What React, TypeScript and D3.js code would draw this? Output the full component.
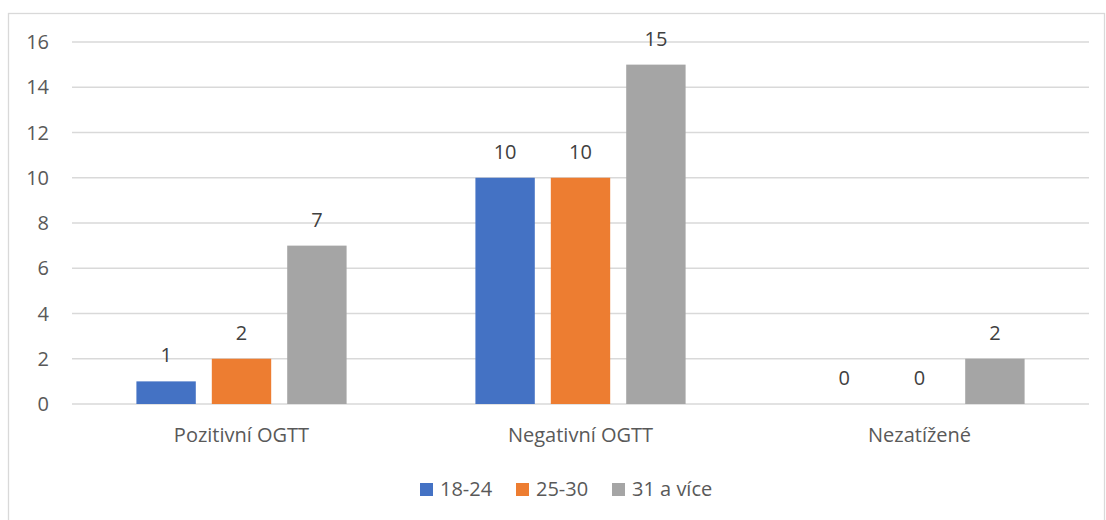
import React from "react";
import * as d3 from "d3";

const categories = ["Pozitivní OGTT", "Negativní OGTT", "Nezatížené"];
const series = ["18-24", "25-30", "31 a více"];
const values = [
  [1, 2, 7],
  [10, 10, 15],
  [0, 0, 2],
];
const yTicks = [0, 2, 4, 6, 8, 10, 12, 14, 16];
const colors = ["#4472C4", "#ED7D31", "#A5A5A5"];

const W = 1106;
const H = 520;
const plot = { left: 72, right: 1089, top: 42, bottom: 404 };
const font = "'Open Sans', sans-serif";
const textColor = "#595959";
const fs = 20;

export default function App() {
  const x0 = d3.scaleBand()
    .domain(categories)
    .range([plot.left, plot.right])
    .padding(0);

  const bw = x0.bandwidth();
  const groupW = bw * 0.62;
  const x1 = d3.scaleBand()
    .domain(series)
    .range([(bw - groupW) / 2, (bw + groupW) / 2])
    .paddingInner(0.2124)
    .paddingOuter(0);

  const y = d3.scaleLinear()
    .domain([0, 16])
    .range([plot.bottom, plot.top]);

  const grid = yTicks.map((t) => (
    <g key={t}>
      <line x1={plot.left} x2={plot.right} y1={y(t)} y2={y(t)} stroke="#D9D9D9" strokeWidth={1.3} />
      <text x={49} y={y(t)} dy="0.36em" textAnchor="end" fontSize={fs} fill={textColor}>{t}</text>
    </g>
  ));

  const bars = categories.map((c, ci) => (
    <g key={c} transform={`translate(${x0(c)},0)`}>
      {series.map((s, si) => {
        const v = values[ci][si];
        const bx = x1(s) as number;
        return (
          <g key={s}>
            <rect x={bx} y={y(v)} width={x1.bandwidth()} height={plot.bottom - y(v)} fill={colors[si]} />
            <text x={bx + x1.bandwidth() / 2} y={y(v) - 19} textAnchor="middle" fontSize={fs} fill="#404040">{v}</text>
          </g>
        );
      })}
      <text x={bw / 2} y={442} textAnchor="middle" fontSize={fs} fill={textColor}>{c}</text>
    </g>
  ));

  const legendX = [420, 516, 612];
  const legend = series.map((s, i) => (
    <g key={s} transform={`translate(${legendX[i]},483)`}>
      <rect width={13} height={13} fill={colors[i]} />
      <text x={20} y={13} fontSize={fs} fill={textColor}>{s}</text>
    </g>
  ));

  return (
    <svg width={W} height={H} style={{ position: "absolute", left: 0, top: 0, fontFamily: font }}>
      <rect x={0} y={0} width={W} height={H} fill="#fff" />
      <rect x={8.5} y={13.5} width={1096} height={520} fill="none" stroke="#D9D9D9" strokeWidth={1.3} />
      {grid}
      {bars}
      {legend}
    </svg>
  );
}
